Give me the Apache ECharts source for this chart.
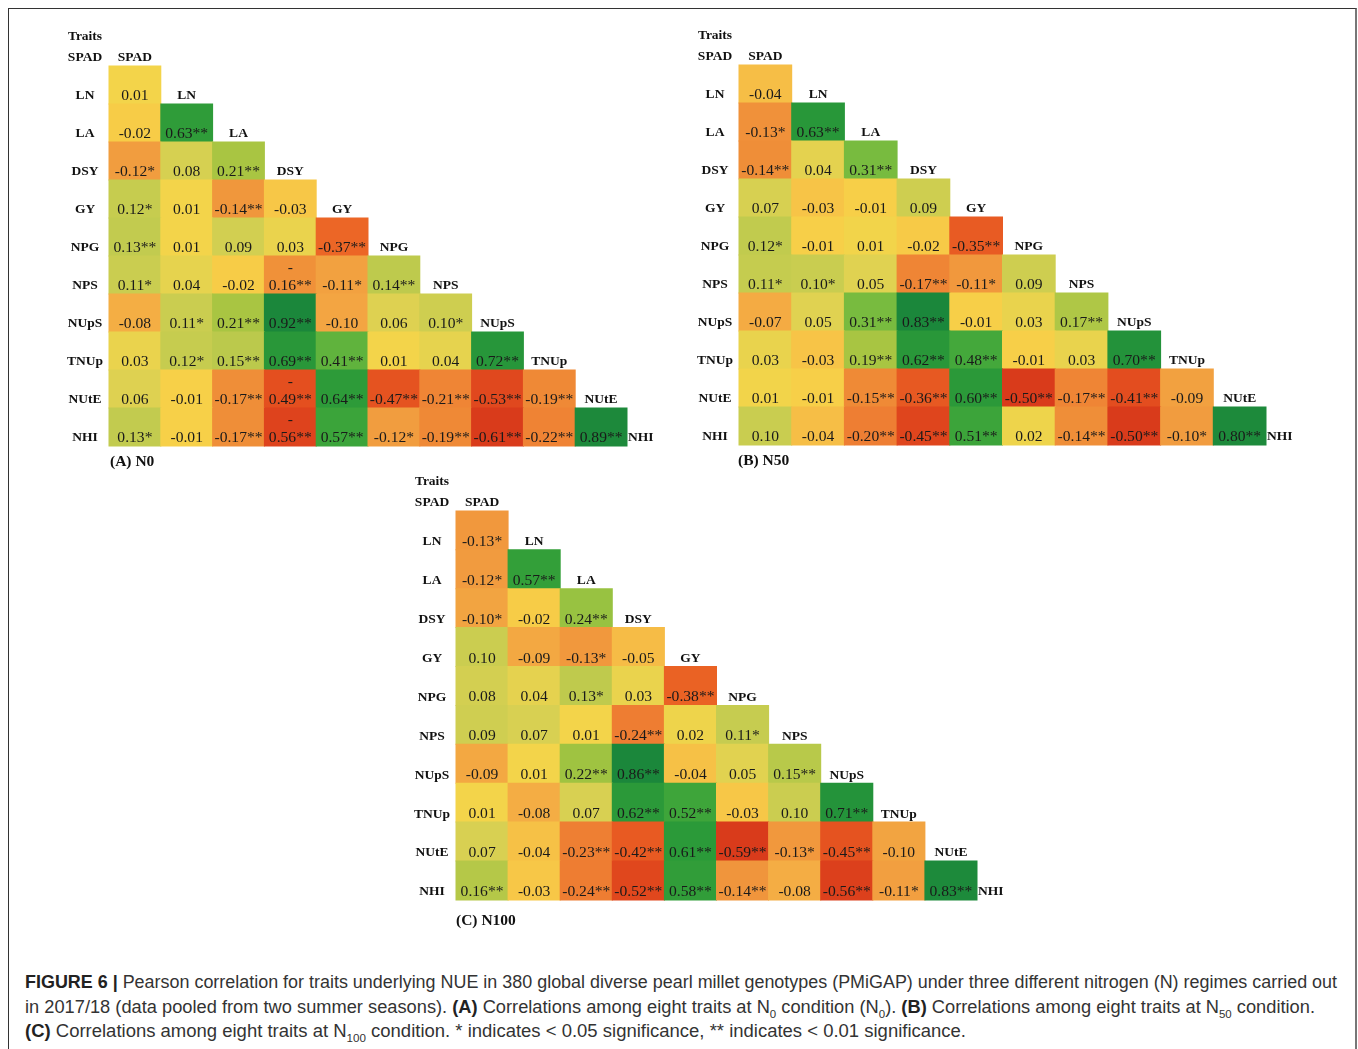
<!DOCTYPE html>
<html>
<head>
<meta charset="utf-8">
<title>Pearson correlation among NUE traits</title>
<script src="https://cdn.jsdelivr.net/npm/echarts@6/dist/echarts.min.js"></script>
<style>
  html, body { margin: 0; padding: 0; background: #fff; width: 1358px; height: 1049px; overflow: hidden; }
  #frame { position: absolute; left: 8px; top: 8px; width: 1349px; height: 1100px; box-sizing: border-box;
           border-left: 1px solid #333; border-top: 1px solid #333; border-right: 2px solid #777; }
  #chart { position: absolute; left: 0; top: 0; width: 1358px; height: 960px; }
  #caption { position: absolute; left: 25px; top: 970px; font-family: "Liberation Sans", Arial, sans-serif;
             font-size: 17.5px; line-height: 24.5px; color: #333; white-space: nowrap; }
  #caption .ln { display: block; width: max-content; transform-origin: 0 50%; }
  #caption b { color: #222; }
  #caption sub { font-size: 11px; line-height: 0; }
</style>
</head>
<body>
<div id="frame"></div>
<div id="chart"></div>
<div id="caption">
  <span class="ln" data-w="1312"><b>FIGURE 6 |</b> Pearson correlation for traits underlying NUE in 380 global diverse pearl millet genotypes (PMiGAP) under three different nitrogen (N) regimes carried out</span>
  <span class="ln" data-w="1290">in 2017/18 (data pooled from two summer seasons). <b>(A)</b> Correlations among eight traits at N<sub>0</sub> condition (N<sub>0</sub>). <b>(B)</b> Correlations among eight traits at N<sub>50</sub> condition.</span>
  <span class="ln" data-w="941"><b>(C)</b> Correlations among eight traits at N<sub>100</sub> condition. * indicates &lt; 0.05 significance, ** indicates &lt; 0.01 significance.</span>
</div>
<script>
// Trait order shared by the three matrices
const traits = ['SPAD', 'LN', 'LA', 'DSY', 'GY', 'NPG', 'NPS', 'NUpS', 'TNUp', 'NUtE', 'NHI'];

// Panel headings
const panelTitles = ['(A) N0', '(B) N50', '(C) N100'];

// Lower triangles: row k holds the correlations of traits[k + 1] with traits[0..k]
// Significance codes: 0 = n.s., 1 = p < 0.05 (*), 2 = p < 0.01 (**)
const n0Values = [
  [0.01],
  [-0.02, 0.63],
  [-0.12, 0.08, 0.21],
  [0.12, 0.01, -0.14, -0.03],
  [0.13, 0.01, 0.09, 0.03, -0.37],
  [0.11, 0.04, -0.02, -0.16, -0.11, 0.14],
  [-0.08, 0.11, 0.21, 0.92, -0.10, 0.06, 0.10],
  [0.03, 0.12, 0.15, 0.69, 0.41, 0.01, 0.04, 0.72],
  [0.06, -0.01, -0.17, -0.49, 0.64, -0.47, -0.21, -0.53, -0.19],
  [0.13, -0.01, -0.17, -0.56, 0.57, -0.12, -0.19, -0.61, -0.22, 0.89]
];
const n0Stars = [
  [0],
  [0, 2],
  [1, 0, 2],
  [1, 0, 2, 0],
  [2, 0, 0, 0, 2],
  [1, 0, 0, 2, 1, 2],
  [0, 1, 2, 2, 0, 0, 1],
  [0, 1, 2, 2, 2, 0, 0, 2],
  [0, 0, 2, 2, 2, 2, 2, 2, 2],
  [1, 0, 2, 2, 2, 1, 2, 2, 2, 2]
];

const n50Values = [
  [-0.04],
  [-0.13, 0.63],
  [-0.14, 0.04, 0.31],
  [0.07, -0.03, -0.01, 0.09],
  [0.12, -0.01, 0.01, -0.02, -0.35],
  [0.11, 0.10, 0.05, -0.17, -0.11, 0.09],
  [-0.07, 0.05, 0.31, 0.83, -0.01, 0.03, 0.17],
  [0.03, -0.03, 0.19, 0.62, 0.48, -0.01, 0.03, 0.70],
  [0.01, -0.01, -0.15, -0.36, 0.60, -0.50, -0.17, -0.41, -0.09],
  [0.10, -0.04, -0.20, -0.45, 0.51, 0.02, -0.14, -0.50, -0.10, 0.80]
];
const n50Stars = [
  [0],
  [1, 2],
  [2, 0, 2],
  [0, 0, 0, 0],
  [1, 0, 0, 0, 2],
  [1, 1, 0, 2, 1, 0],
  [0, 0, 2, 2, 0, 0, 2],
  [0, 0, 2, 2, 2, 0, 0, 2],
  [0, 0, 2, 2, 2, 2, 2, 2, 0],
  [0, 0, 2, 2, 2, 0, 2, 2, 1, 2]
];

const n100Values = [
  [-0.13],
  [-0.12, 0.57],
  [-0.10, -0.02, 0.24],
  [0.10, -0.09, -0.13, -0.05],
  [0.08, 0.04, 0.13, 0.03, -0.38],
  [0.09, 0.07, 0.01, -0.24, 0.02, 0.11],
  [-0.09, 0.01, 0.22, 0.86, -0.04, 0.05, 0.15],
  [0.01, -0.08, 0.07, 0.62, 0.52, -0.03, 0.10, 0.71],
  [0.07, -0.04, -0.23, -0.42, 0.61, -0.59, -0.13, -0.45, -0.10],
  [0.16, -0.03, -0.24, -0.52, 0.58, -0.14, -0.08, -0.56, -0.11, 0.83]
];
const n100Stars = [
  [1],
  [1, 2],
  [1, 0, 2],
  [0, 0, 1, 0],
  [0, 0, 1, 0, 2],
  [0, 0, 0, 2, 0, 1],
  [0, 0, 2, 2, 0, 0, 2],
  [0, 0, 0, 2, 2, 0, 0, 2],
  [0, 0, 2, 2, 2, 2, 1, 2, 0],
  [2, 0, 2, 2, 2, 2, 0, 2, 1, 2]
];

// ---- colour scale: red (most negative) -> yellow (0) -> green (most positive)
const negStops = [[0, '#f7d548'], [0.05, '#f7c747'], [0.13, '#f4ae44'], [0.2, '#f19c3f'], [0.3, '#ef8a36'],
                  [0.45, '#ee7831'], [0.6, '#ec6726'], [0.8, '#e44f1f'], [1, '#d93b1b']];
const posStops = [[0, '#f7d548'], [0.07, '#dcd152'], [0.14, '#c2cb4f'], [0.23, '#a8c542'], [0.35, '#80bd3f'],
                  [0.45, '#5fb33d'], [0.62, '#3ba43a'], [0.7, '#2c9a39'], [0.85, '#23923a'], [1, '#1b873b']];

function hexRgb(h) { return [1, 3, 5].map(i => parseInt(h.substr(i, 2), 16)); }
function ramp(stops, t) {
  t = Math.max(0, Math.min(1, t));
  for (let i = 1; i < stops.length; i++) {
    if (t <= stops[i][0]) {
      const a = stops[i - 1], b = stops[i];
      const f = (t - a[0]) / (b[0] - a[0]);
      const ca = hexRgb(a[1]), cb = hexRgb(b[1]);
      return 'rgb(' + ca.map((v, k) => Math.round(v + (cb[k] - v) * f)).join(',') + ')';
    }
  }
  return stops[stops.length - 1][1];
}

const serif = '"Liberation Serif", "Times New Roman", serif';

// ---- panel layout (grid boxes)
const grids = [
  { left: 109, top: 28, width: 569.8, height: 418 },
  { left: 739, top: 27, width: 579.7, height: 418 },
  { left: 456, top: 472, width: 573.1, height: 427.9 }
];
const titlePos = [[110, 454], [738, 453], [456, 913]];
// column whose negative ** values break after the minus sign (narrow column in panel A)
const wrapColumn = [3, -1, -1];

const panels = [
  { values: n0Values, stars: n0Stars },
  { values: n50Values, stars: n50Stars },
  { values: n100Values, stars: n100Stars }
];

const series = [];
panels.forEach((p, k) => {
  const cells = [];
  let vmin = 0, vmax = 0;
  p.values.forEach((row, r) => row.forEach((v, c) => {
    cells.push([c, r + 1, v, p.stars[r][c]]);
    vmin = Math.min(vmin, v); vmax = Math.max(vmax, v);
  }));

  series.push({
    type: 'custom', name: panelTitles[k], xAxisIndex: k, yAxisIndex: k,
    encode: { x: 0, y: 1 }, data: cells, silent: true,
    renderItem: function (params, api) {
      const col = api.value(0), row = api.value(1), v = api.value(2), st = api.value(3);
      const c = api.coord([col, row]);
      const s = api.size([1, 1]);
      const x = c[0] - s[0] / 2, y = c[1] - s[1] / 2;
      const fill = v < 0 ? ramp(negStops, v / vmin) : ramp(posStops, v / vmax);
      let txt = v.toFixed(2) + '*'.repeat(st);
      if (col === wrapColumn[k] && v < 0 && st === 2) txt = '-\n' + txt.slice(1);
      return {
        type: 'group',
        children: [
          { type: 'rect', shape: { x: x - 0.5, y: y - 0.5, width: s[0] + 1, height: s[1] + 1 }, style: { fill: fill } },
          { type: 'text', x: c[0], y: y + s[1] + 1,
            style: { text: txt, fill: '#1a1a1a', font: '15.6px ' + serif, align: 'center', verticalAlign: 'bottom', lineHeight: 18 } }
        ]
      };
    }
  });

  // diagonal trait names, row names on the left and the "Traits" heading
  series.push({
    type: 'custom', name: panelTitles[k] + ' labels', xAxisIndex: k, yAxisIndex: k,
    encode: { x: 0, y: 1 }, data: traits.map((t, i) => [i, i]), silent: true, z: 3,
    renderItem: function (params, api) {
      const i = api.value(0);
      const c = api.coord([i, i]);
      const s = api.size([1, 1]);
      const x0 = api.coord([0, i])[0] - s[0] / 2;
      const yb = c[1] + s[1] / 2 - 8;
      const last = i === traits.length - 1;
      const font = 'bold 13.5px ' + serif;
      const children = [
        { type: 'text', x: last ? c[0] - s[0] / 2 + 1 : c[0], y: yb,
          style: { text: traits[i], fill: '#111', font: font, align: last ? 'left' : 'center', verticalAlign: 'middle' } },
        { type: 'text', x: x0 - 24, y: yb,
          style: { text: traits[i], fill: '#111', font: font, align: 'center', verticalAlign: 'middle' } }
      ];
      if (i === 0) {
        children.push({ type: 'text', x: x0 - 24, y: yb - 21,
          style: { text: 'Traits', fill: '#111', font: font, align: 'center', verticalAlign: 'middle' } });
      }
      return { type: 'group', children: children };
    }
  });
});

const chart = echarts.init(document.getElementById('chart'), null, { renderer: 'canvas' });
chart.setOption({
  backgroundColor: 'transparent',
  animation: false,
  title: panelTitles.map((t, k) => ({
    text: t, left: titlePos[k][0], top: titlePos[k][1], padding: 0,
    textStyle: { fontFamily: serif, fontWeight: 'bold', fontSize: 15.5, color: '#111' }
  })),
  grid: grids.map(g => Object.assign({ containLabel: false }, g)),
  xAxis: grids.map((g, k) => ({ type: 'category', gridIndex: k, data: traits, show: false })),
  yAxis: grids.map((g, k) => ({ type: 'category', gridIndex: k, data: traits, inverse: true, show: false })),
  series: series
});

// fit each caption line to its measured length
document.querySelectorAll('#caption .ln').forEach(el => {
  const w = el.getBoundingClientRect().width;
  el.style.transform = 'scaleX(' + (+el.dataset.w / w) + ')';
});
</script>
</body>
</html>
